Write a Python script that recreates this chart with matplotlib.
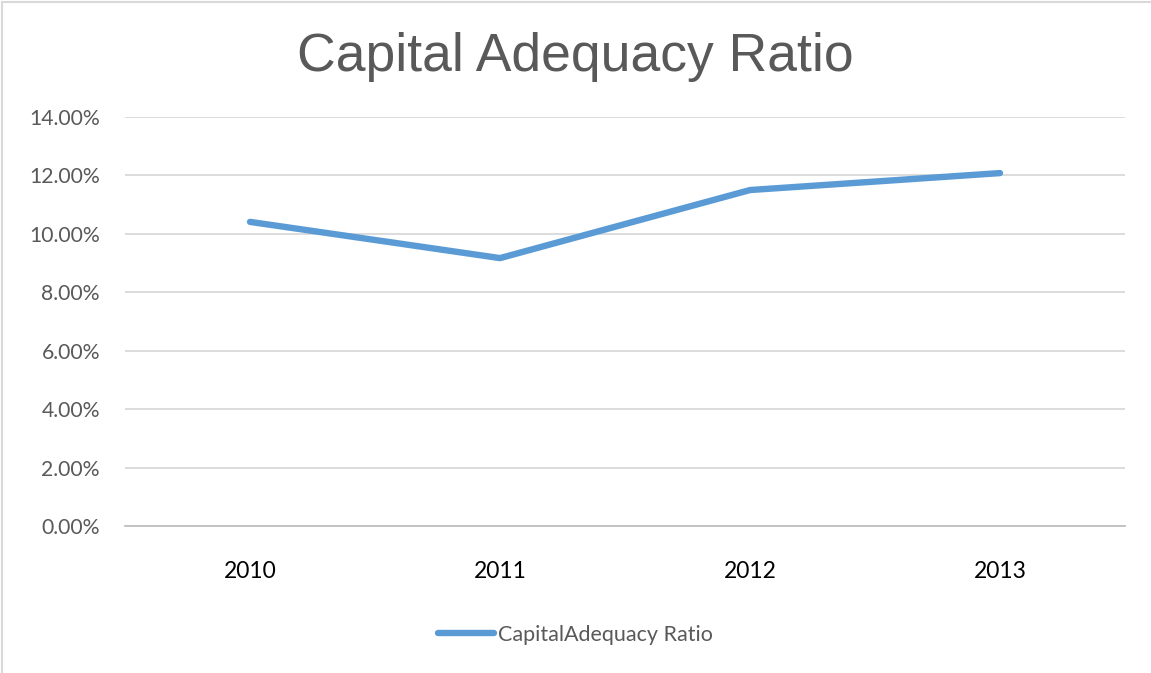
import matplotlib.pyplot as plt
from matplotlib.lines import Line2D
from matplotlib.ticker import FuncFormatter

years = ['2010', '2011', '2012', '2013']
car = [10.41, 9.17, 11.50, 12.08]
yticks = [0, 2, 4, 6, 8, 10, 12, 14]

plt.rcParams['font.family'] = ['Lato', 'DejaVu Sans']

fig = plt.figure(figsize=(11.51, 6.73), dpi=100)
ax = fig.add_axes([125 / 1151, 1 - 526 / 673, 1000 / 1151, 409 / 673])

x = range(len(years))
ax.plot(x, car, color='#5B9BD5', lw=4.6, solid_capstyle='round',
        solid_joinstyle='round', label='CapitalAdequacy Ratio', zorder=3)

ax.set_xlim(-0.5, len(years) - 0.5)
ax.set_ylim(0, 14)
ax.set_yticks(yticks)
ax.yaxis.set_major_formatter(FuncFormatter(lambda v, p: '%.2f%%' % v))
ax.set_xticks(list(x))
ax.set_xticklabels(years)
ax.grid(axis='y', color='#D9D9D9', lw=1.3)
ax.set_axisbelow(True)
for s in ['top', 'right', 'left']:
    ax.spines[s].set_visible(False)
ax.spines['bottom'].set_color('#BFBFBF')
ax.spines['bottom'].set_linewidth(1.3)
ax.tick_params(axis='y', length=0, pad=18, labelsize=15.2, labelcolor='#595959')
ax.tick_params(axis='x', length=0, pad=25, labelsize=16.5, labelcolor='black')

fig.text(0.5, 1 - 57 / 673, 'Capital Adequacy Ratio', ha='center', va='center',
         fontsize=38.5, color='#595959', family='Liberation Sans')

ax.legend(loc='center', bbox_to_anchor=(0.5, 1 - 635 / 673), bbox_transform=fig.transFigure,
          frameon=False, fontsize=15.5, labelcolor='#595959', handlelength=2.6,
          handletextpad=0.15)

# chart border (only top and left fall inside the picture)
fig.add_artist(Line2D([2 / 1151, 2 / 1151], [0, 1 - 2 / 673], color='#D9D9D9', lw=1.5,
                      transform=fig.transFigure))
fig.add_artist(Line2D([2 / 1151, 1], [1 - 2 / 673, 1 - 2 / 673], color='#D9D9D9', lw=1.5,
                      transform=fig.transFigure))

fig.savefig('out.png', dpi=100)
